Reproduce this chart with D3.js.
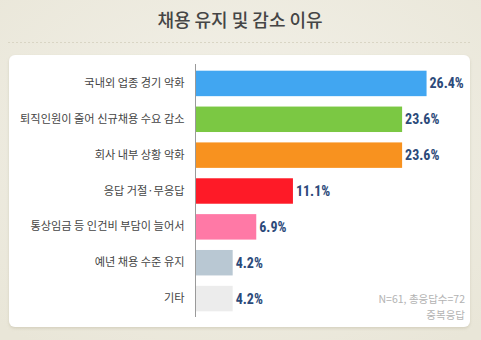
<!DOCTYPE html>
<html>
<head>
<meta charset="utf-8">
<script src="https://cdn.jsdelivr.net/npm/d3@7"></script>
<style>
  html, body { margin: 0; padding: 0; }
  body { width: 481px; height: 340px; overflow: hidden; }
</style>
</head>
<body>
<script>
// Reasons for keeping or cutting hiring (multiple answers, %)
const categories = [
  "국내외 업종 경기 악화",
  "퇴직인원이 줄어 신규채용 수요 감소",
  "회사 내부 상황 악화",
  "응답 거절·무응답",
  "통상임금 등 인건비 부담이 늘어서",
  "예년 채용 수준 유지",
  "기타"
];
const values = [26.4, 23.6, 23.6, 11.1, 6.9, 4.2, 4.2];
const barColors = ["#41a6f1", "#7bc843", "#f8921f", "#fe1a27", "#ff79a6", "#b9c8d3", "#ececec"];
const title = "채용 유지 및 감소 이유";
const noteLines = ["N=61, 총응답수=72", "중복응답"];

const W = 481, H = 340;
const svg = d3.select("body").append("svg")
  .attr("width", W).attr("height", H)
  .attr("font-family", "'Noto Sans CJK KR', 'Noto Sans', sans-serif");

const defs = svg.append("defs");
const bg = defs.append("radialGradient").attr("id", "bg")
  .attr("cx", "50%").attr("cy", "40%").attr("r", "75%");
bg.append("stop").attr("offset", "0%").attr("stop-color", "#f3f1e9");
bg.append("stop").attr("offset", "100%").attr("stop-color", "#e9e6d8");
const sh = defs.append("filter").attr("id", "shadow")
  .attr("x", "-5%").attr("y", "-5%").attr("width", "110%").attr("height", "115%");
sh.append("feDropShadow").attr("dx", 0).attr("dy", 1.5).attr("stdDeviation", 1.5)
  .attr("flood-color", "#b8b29a").attr("flood-opacity", 0.45);

svg.append("rect").attr("width", W).attr("height", H).attr("fill", "url(#bg)");

// Title and dotted rule
svg.append("text")
  .attr("x", 240).attr("y", 27)
  .attr("text-anchor", "middle")
  .attr("font-size", 18).attr("font-weight", 500)
  .attr("fill", "#454545")
  .text(title);

svg.append("line")
  .attr("x1", 8).attr("x2", 472).attr("y1", 42.5).attr("y2", 42.5)
  .attr("stroke", "#d9d5c4").attr("stroke-width", 1)
  .attr("stroke-dasharray", "2,2");

// White panel
svg.append("rect")
  .attr("x", 9).attr("y", 55).attr("width", 461).attr("height", 272)
  .attr("rx", 6).attr("fill", "#ffffff")
  .attr("filter", "url(#shadow)");

// Scales
const x = d3.scaleLinear().domain([0, 30]).range([196, 458]);
const y = d3.scaleBand().domain(categories).range([65.5, 316.5])
  .paddingInner(0.29).paddingOuter(0.145);

// Bars
svg.append("g").selectAll("rect")
  .data(values)
  .join("rect")
  .attr("x", x(0))
  .attr("y", (d, i) => y(categories[i]))
  .attr("width", d => x(d) - x(0))
  .attr("height", y.bandwidth())
  .attr("fill", (d, i) => barColors[i]);

// Category axis
const yAxis = svg.append("g")
  .attr("transform", `translate(${x(0) - 0.5},0)`)
  .call(d3.axisLeft(y).tickSize(0).tickPadding(11));
yAxis.select(".domain").attr("stroke", "#9a9a9a").attr("d", "M0,64V317");
yAxis.selectAll("text")
  .attr("font-family", "'Noto Sans CJK KR', sans-serif")
  .attr("font-size", 11.2)
  .attr("fill", "#444");

// Value labels
svg.append("g").selectAll("text")
  .data(values)
  .join("text")
  .attr("x", d => x(d) + 3)
  .attr("y", (d, i) => y(categories[i]) + y.bandwidth() / 2)
  .attr("dy", "0.36em")
  .attr("font-family", "'Liberation Sans Narrow', 'Roboto Condensed', 'Arial Narrow', sans-serif")
  .attr("font-size", 14).attr("font-weight", 700)
  .attr("fill", "#2c4a7a")
  .text(d => d.toFixed(1) + "%");

// Note
svg.append("g").selectAll("text")
  .data(noteLines)
  .join("text")
  .attr("x", 465)
  .attr("y", (d, i) => 303 + i * 16)
  .attr("text-anchor", "end")
  .attr("font-size", 10.5)
  .attr("fill", "#b3b3b3")
  .text(d => d);
</script>
</body>
</html>
